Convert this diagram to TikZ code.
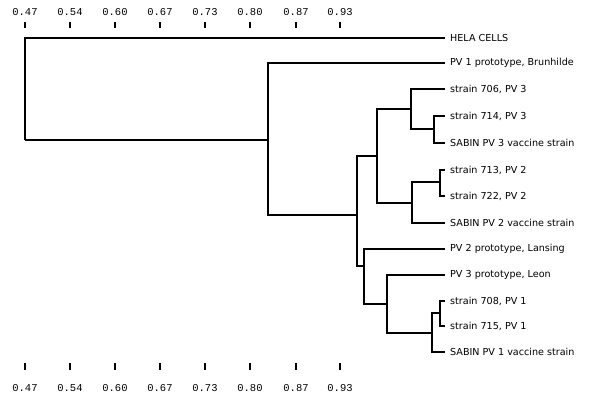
\documentclass[tikz,border=0pt]{standalone}
\usepackage{fontspec}
\setmainfont{DejaVu Sans}
\newfontfamily\axisfont{Liberation Mono}
\begin{document}
\begin{tikzpicture}[x=1pt,y=-1pt,
            branch/.style = {line width=1.5pt,to path={|- (\tikztotarget)}},
            leaf/.style = {right,font=\fontsize{9.6}{11}\selectfont,inner xsep=5pt},
            ticklabel/.style = {font=\axisfont\fontsize{10.5}{12}\selectfont}]
            \useasboundingbox (0,0) rectangle (603,402);
            % axis ticks, top and bottom
            \foreach \x/\v in {25/0.47,70/0.54,115/0.60,160/0.67,205/0.73,250/0.80,296/0.87,340/0.93} {
                \draw[line width=1.3pt] (\x,22) -- (\x,28);
                \node[ticklabel] at (\x,12) {\v};
                \draw[line width=1.3pt] (\x,363) -- (\x,370);
                \node[ticklabel] at (\x,388) {\v};
            }
            % leaves
            \foreach \n/\y/\t in {hela/38/HELA CELLS,pvi/63/{PV 1 prototype, Brunhilde},
                sa/89/{strain 706, PV 3},sb/116/{strain 714, PV 3},sc/143/SABIN PV 3 vaccine strain,
                sd/170/{strain 713, PV 2},se/196/{strain 722, PV 2},sf/223/SABIN PV 2 vaccine strain,
                lans/249/{PV 2 prototype, Lansing},leon/275/{PV 3 prototype, Leon},
                sg/301/{strain 708, PV 1},sh/326/{strain 715, PV 1},si/352/SABIN PV 1 vaccine strain} {
                \coordinate (\n) at (445,\y);
                \node[leaf] (\n-lab) at (\n) {\t};
            }
            % inner nodes
            \coordinate (root) at (25,140);
            \coordinate (k2) at (268,140);
            \coordinate (k3) at (357,215);
            \coordinate (k4) at (377,156);
            \coordinate (k5) at (411,109);
            \coordinate (k6) at (434,129);
            \coordinate (k7) at (412,203);
            \coordinate (k8) at (440,182);
            \coordinate (k9) at (364,266);
            \coordinate (k10) at (387,304);
            \coordinate (k11) at (432,333);
            \coordinate (k12) at (440,313);
            \path
                (root) edge[branch] (hela) edge[branch] (k2)
                (k2) edge[branch] (pvi) edge[branch] (k3)
                (k3) edge[branch] (k4) edge[branch] (k9)
                (k4) edge[branch] (k5) edge[branch] (k7)
                (k5) edge[branch] (sa) edge[branch] (k6)
                (k6) edge[branch] (sb) edge[branch] (sc)
                (k7) edge[branch] (k8) edge[branch] (sf)
                (k8) edge[branch] (sd) edge[branch] (se)
                (k9) edge[branch] (lans) edge[branch] (k10)
                (k10) edge[branch] (leon) edge[branch] (k11)
                (k11) edge[branch] (k12) edge[branch] (si)
                (k12) edge[branch] (sg) edge[branch] (sh);
        \end{tikzpicture}
\end{document}
